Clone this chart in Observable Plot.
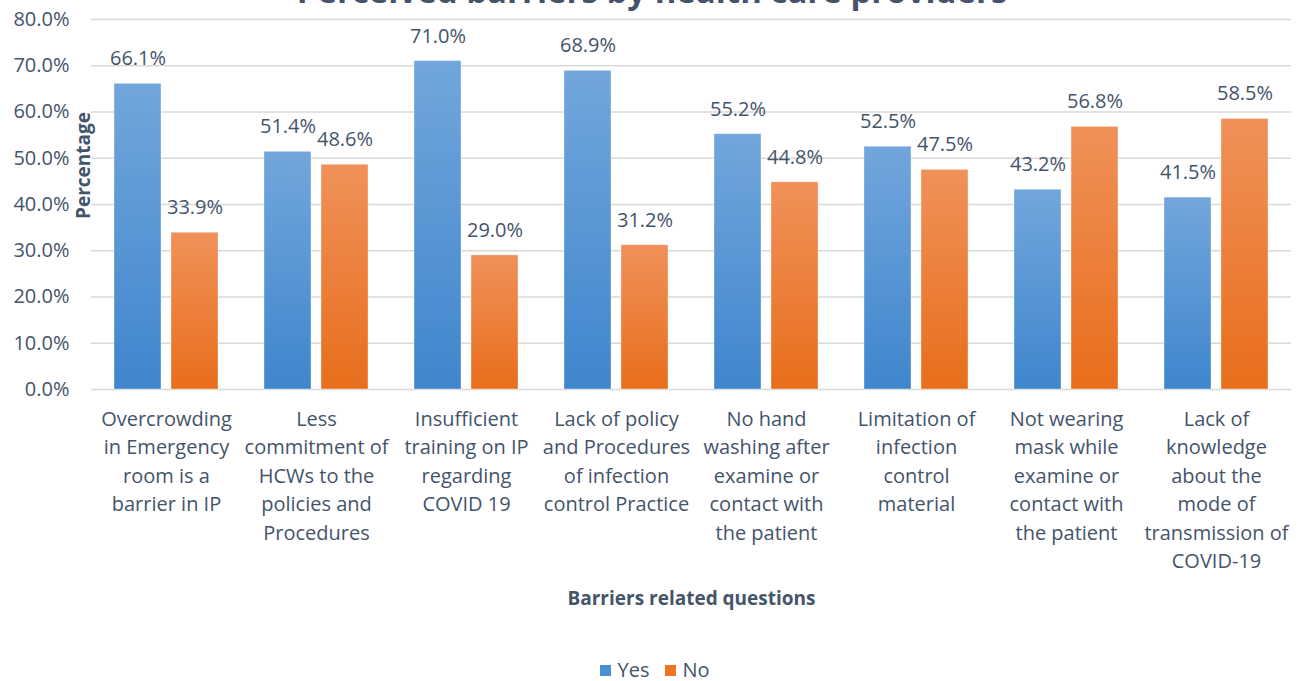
<!DOCTYPE html>
<html>
<head>
<meta charset="utf-8">
<script src="https://cdn.jsdelivr.net/npm/d3@7"></script>
<script src="https://cdn.jsdelivr.net/npm/@observablehq/plot@0.6"></script>
<style>
  html, body { margin: 0; padding: 0; background: #fff; overflow: hidden; }
  body { width: 1304px; height: 681px; position: relative; font-family: "Open Sans", Lato, sans-serif; color: #44546A; }
  #title { position: absolute; z-index: 2; top: -29px; left: 0; width: 1304px; text-align: center; font-size: 33px; line-height: 40px; font-weight: bold; color: #44546A; white-space: nowrap; }
  #chart { position: absolute; z-index: 1; top: 0; left: 0; }
  #legend { position: absolute; top: 657px; left: 0; width: 1304px; display: flex; justify-content: center; align-items: center; font-size: 20px; line-height: 26px; color: #44546A; padding-left: 6px; box-sizing: border-box; }
  .sw { display: inline-block; width: 11px; height: 11px; margin-right: 6px; }
  .item { display: inline-flex; align-items: center; margin: 0 8px; }
</style>
</head>
<body>
<div id="title">Perceived barriers by health care providers</div>
<div id="chart"></div>
<div id="legend"></div>
<script>
const categories = [
  "Overcrowding in Emergency room is a barrier in IP",
  "Less commitment of HCWs to the policies and Procedures",
  "Insufficient training on IP regarding COVID 19",
  "Lack of policy and Procedures of infection control Practice",
  "No hand washing after examine or contact with the patient",
  "Limitation of infection control material",
  "Not wearing mask while examine or contact with the patient",
  "Lack of knowledge about the mode of transmission of COVID-19"
];
const tickLabels = [
  "Overcrowding\nin Emergency\nroom is a\nbarrier in IP",
  "Less\ncommitment of\nHCWs to the\npolicies and\nProcedures",
  "Insufficient\ntraining on IP\nregarding\nCOVID 19",
  "Lack of policy\nand Procedures\nof infection\ncontrol Practice",
  "No hand\nwashing after\nexamine or\ncontact with\nthe patient",
  "Limitation of\ninfection\ncontrol\nmaterial",
  "Not wearing\nmask while\nexamine or\ncontact with\nthe patient",
  "Lack of\nknowledge\nabout the\nmode of\ntransmission of\nCOVID-19"
];
const yesValues = [66.1, 51.4, 71.0, 68.9, 55.2, 52.5, 43.2, 41.5];
const noValues  = [33.9, 48.6, 29.0, 31.2, 44.8, 47.5, 56.8, 58.5];
const yTicks = [0, 10, 20, 30, 40, 50, 60, 70, 80];
const seriesNames = ["Yes", "No"];
const textColor = "#44546A";
const font = "'Open Sans', Lato, sans-serif";

const yesData = categories.map((c, i) => ({category: c, value: yesValues[i]}));
const noData = categories.map((c, i) => ({category: c, value: noValues[i]}));

const chart = Plot.plot({
  width: 1304,
  height: 640,
  marginTop: 19,
  marginBottom: 251,
  marginLeft: 91,
  marginRight: 13,
  style: {fontFamily: font, fontSize: "20px", color: textColor, background: "transparent"},
  x: {domain: categories, paddingInner: 0, paddingOuter: 0},
  y: {domain: [0, 80]},
  marks: [
    Plot.gridY(yTicks, {stroke: "#D9D9D9", strokeOpacity: 1, strokeWidth: 1.3}),
    Plot.barY(yesData, {x: "category", y: "value", fill: "url(#gradYes)", insetLeft: 23, insetRight: 80, stroke: "#ffffff", strokeWidth: 0.6, strokeOpacity: 0.6}),
    Plot.barY(noData, {x: "category", y: "value", fill: "url(#gradNo)", insetLeft: 80, insetRight: 23, stroke: "#ffffff", strokeWidth: 0.6, strokeOpacity: 0.6}),
    Plot.text(yesData, {x: "category", y: "value", text: d => d.value.toFixed(1) + "%", dx: -28.5, dy: -25, fill: textColor, fontSize: 20}),
    Plot.text(noData, {x: "category", y: "value", text: d => d.value.toFixed(1) + "%", dx: 28.5, dy: -25, fill: textColor, fontSize: 20}),
    Plot.axisY(yTicks, {tickSize: 0, tickPadding: 22, tickFormat: d => d.toFixed(1) + "%", label: null, fontSize: 20}),
    Plot.axisX({tickSize: 0, tickPadding: 16, tickFormat: d => tickLabels[categories.indexOf(d)], label: null, fontSize: 20, lineHeight: 1.425}),
    Plot.text(["Percentage"], {frameAnchor: "top-left", textAnchor: "middle", lineAnchor: "middle", dx: -8, dy: 146, rotate: -90, fontWeight: "bold", fontSize: 19, fill: textColor}),
    Plot.text(["Barriers related questions"], {frameAnchor: "bottom", lineAnchor: "middle", dy: 209, fontWeight: "bold", fontSize: 19, fill: textColor})
  ]
});

const ns = "http://www.w3.org/2000/svg";
const defs = document.createElementNS(ns, "defs");
function grad(id, top, bottom) {
  const g = document.createElementNS(ns, "linearGradient");
  g.setAttribute("id", id);
  g.setAttribute("x1", "0"); g.setAttribute("y1", "0");
  g.setAttribute("x2", "0"); g.setAttribute("y2", "1");
  [[0, top], [1, bottom]].forEach(([o, c]) => {
    const s = document.createElementNS(ns, "stop");
    s.setAttribute("offset", o);
    s.setAttribute("stop-color", c);
    g.appendChild(s);
  });
  defs.appendChild(g);
}
grad("gradYes", "#72A6DC", "#3F86CD");
grad("gradNo", "#F0915A", "#E86E1B");
chart.insertBefore(defs, chart.firstChild);
document.getElementById("chart").appendChild(chart);

const legendColors = {Yes: "#4A8FD3", No: "#EC7424"};
const legend = document.getElementById("legend");
seriesNames.forEach(name => {
  const item = document.createElement("span");
  item.className = "item";
  const sw = document.createElement("span");
  sw.className = "sw";
  sw.style.background = legendColors[name];
  item.appendChild(sw);
  item.appendChild(document.createTextNode(name));
  legend.appendChild(item);
});
</script>
</body>
</html>
